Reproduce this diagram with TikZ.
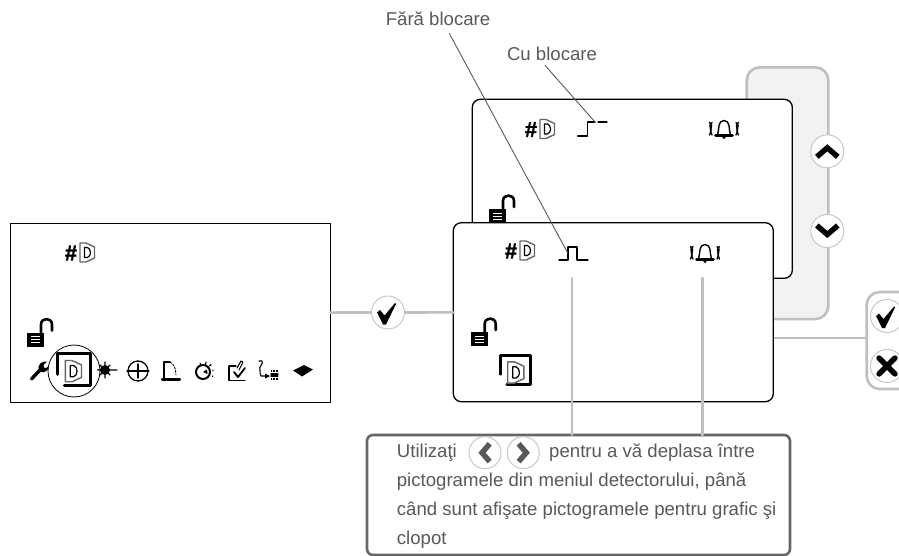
\documentclass[tikz,border=0pt]{standalone}
\usepackage{fontspec}
\setmainfont{Liberation Sans}
\newfontfamily\hashfont[FakeBold=1.6]{Liberation Sans}
\usepackage{tikz}
\definecolor{linkgray}{HTML}{BFBFBF}
\definecolor{tabfill}{HTML}{F2F2F2}
\definecolor{textgray}{HTML}{595959}
\definecolor{boxgray}{HTML}{666666}
\definecolor{ringgray}{HTML}{C8C8C8}
\definecolor{doorgray}{HTML}{666666}
\tikzset{
  panel/.style={draw=black,fill=white,line width=1.3pt,inner sep=0pt,outer sep=0pt,minimum width=320pt,minimum height=179pt},
  roundpanel/.style={panel,rounded corners=8pt},
  graytab/.style={draw=linkgray,line width=2.6pt,inner sep=0pt,outer sep=0pt,rounded corners=13pt},
  link/.style={draw=linkgray,line width=2.6pt},
  leader/.style={draw=textgray,line width=0.9pt},
  roundbtn/.style={circle,draw=ringgray,fill=white,line width=1pt,inner sep=0pt,minimum size=33pt},
  labeltext/.style={font=\fontsize{18.6}{29}\selectfont,text=textgray,inner sep=0pt},
  doorpic/.pic={
    \draw[doorgray,line width=1.4pt] (0,0)-- (6,0)-- (14.5,4)-- (14.5,15)-- (6,19)-- (0,19)-- cycle;
    \draw[black,line width=1.2pt] (4.5,4.5)-- (7.5,4.5) .. controls (11.5,6) and (11.5,13) .. (7.5,14.5)-- (4.5,14.5)-- cycle;
  },
  idicon/.pic={
    \node[inner sep=0pt,font=\fontsize{21.6}{22}\hashfont\bfseries] (mark) at (6,8) {\#};
    \pic (door) at (15,-2) {doorpic};
  },
  framedicon/.pic={
    \draw[black,line width=2.6pt] (0,21)-- (0,0)-- (33,0)-- (33,32)-- (7,32);
    \pic[scale=1.12] (door) at (8,7) {doorpic};
  },
  lockicon/.pic={
    \fill[black] (0,14) rectangle (17,28);
    \draw[white,line width=1pt,line cap=butt] (4,18)-- (13,18) (4,21)-- (13,21) (4,24)-- (13,24);
    \draw[black,line width=2.6pt] (14,14)-- (14,6) .. controls (14,-1.3) and (25,-1.3) .. (25,6)-- (25,12);
  },
  bellicon/.pic={
    \draw[black,line width=1.4pt] (-6.5,6) .. controls (-4.5,0) and (-6.5,-8.5) .. (0,-8.5) .. controls (6.5,-8.5) and (4.5,0) .. (6.5,6);
    \draw[black,line width=2.6pt] (-8.5,6.5)-- (8.5,6.5);
    \fill[black] (0,8.5) circle (1.6pt);
    \foreach \sgn in {-1,1} {
      \draw[black,line width=1.4pt] (\sgn*12,-6.5) .. controls (\sgn*17.5,-3) and (\sgn*10,1) .. (\sgn*14.5,6);
      \draw[black,line width=1.4pt] (\sgn*14.5,-6.5) .. controls (\sgn*9,-3) and (\sgn*16.5,1) .. (\sgn*12,6);
    }
  },
  chevronicon/.pic={
    \draw[line width=5.4pt,line cap=butt,line join=miter] (-10.5,5.5)-- (0,-3.5)-- (10.5,5.5);
  },
  checkicon/.pic={
    \fill[black] (-11,0)-- (-8,-2.5)-- (-3.5,3)-- (7,-9.5)-- (8,-8.5)-- (-2,12)-- (-5,12)-- cycle;
  },
  crossicon/.pic={
    \draw[black,line width=5.4pt] (-8,-8)-- (8,8) (-8,8)-- (8,-8);
  },
}
\begin{document}
\begin{tikzpicture}[line cap=round,line join=round,x=1pt,y=-1pt]
\clip (0,0) rectangle (899,556);

\node[graytab,fill=tabfill,minimum width=81.6pt,minimum height=251.7pt] (movetab) at (787.5,193.2) {};
\node[roundpanel] (backpanel) at (632.3,188.8) {};
\pic (backid) at (525,121.5) {idicon};
\pic (backlock) at (489,195) {lockicon};
\pic (backbell) at (724,129) {bellicon};
\draw[black,line width=1.2pt] (577.7,136)-- (587.7,136)-- (587.7,122)-- (595,122) (598,122)-- (607,122);

\node[panel] (leftpanel) at (170.3,312.7) {};
\pic (leftid) at (65,245) {idicon};
\pic (leftlock) at (27,318.5) {lockicon};

\draw[black,line width=3.4pt] (31.5,379)-- (41,369);
\fill[black] (39,371) .. controls (36.5,365.5) and (41.5,360.5) .. (47,361.5)-- (43.5,365)-- (44,367.5)-- (46.5,368)-- (49,365) .. controls (49.5,370) and (45,373) .. (41,372)-- cycle;
\node[circle,draw=black,line width=0.8pt,inner sep=0pt,minimum size=52pt] (selring) at (74,371) {};
\pic (leftframed) at (57.3,353.5) {framedicon};
\fill[black] (105,370) circle (5pt);
\draw[black,line width=1.1pt] (105,362)-- (105,378) (97.5,370)-- (117,370) (100,365)-- (110,375) (100,375)-- (110,365);
\node[circle,draw=black,line width=1.3pt,inner sep=0pt,minimum size=20pt] (target) at (138,371) {};
\draw[black,line width=1.1pt] (127,371)-- (149,371) (138,364)-- (138,378);
\draw[black,line width=2.2pt] (162,379.5)-- (180,379.5);
\draw[black,line width=1.1pt] (164,379)-- (164,362)-- (170,362);
\draw[black,line width=0.9pt,dash pattern=on 2pt off 1.5pt] (170,362) .. controls (174,364) and (176,369) .. (176,375);
\node[circle,draw=black,line width=2pt,inner sep=0pt,minimum size=14pt] (watch) at (203,372) {};
\fill[black] (203,372)-- (207,369.5)-- (207.5,374)-- cycle;
\draw[black,line width=1.1pt] (200,363)-- (201,365) (206,362)-- (205.5,364.5) (211,364.5)-- (209.5,366) (213,370)-- (213,370.5) (212.5,376)-- (212.5,376.5);
\draw[black,line width=1.2pt] (229,366)-- (229,380.5)-- (245,380.5) (229,366)-- (236,366);
\draw[black,line width=1.8pt] (234,372)-- (238,377)-- (245,368);
\draw[black,line width=1.1pt] (237,368)-- (241,361)-- (243,362)-- (239,370);
\draw[black,line width=1.1pt] (259,361)-- (262,361) .. controls (264,364) and (258,367) .. (260,370) .. controls (261,373) and (259,374) .. (261,376)-- (268,376);
\fill[black] (265,373.5)-- (270,376)-- (265,378.5)-- cycle;
\draw[black,line width=1.8pt,dash pattern=on 1pt off 0.6pt,line cap=butt] (271,371)-- (278,371) (271,379)-- (278,379);
\draw[black,line width=1.1pt] (271,376)-- (278,376) (271,374)-- (278,374);
\fill[black] (293,370.5)-- (304,365)-- (313,369.5)-- (302,376.5)-- cycle;

\node[roundpanel] (frontpanel) at (613.3,312.2) {};
\pic (frontid) at (505,243) {idicon};
\pic (frontlock) at (470.7,318) {lockicon};
\pic[scale=0.9] (frontframed) at (500.5,355.5) {framedicon};
\pic (frontbell) at (705,253) {bellicon};
\draw[black,line width=1.2pt] (559,260)-- (568,260)-- (568,247)-- (577,247)-- (577,260)-- (588,260);

\node[graytab,fill=white,minimum width=70pt,minimum height=97pt] (confirmtab) at (901.7,340.5) {};
\node[roundbtn] (okbtn) at (388,312.5) {};
\node[roundbtn] (upbtn) at (827.3,151.3) {};
\node[roundbtn] (downbtn) at (827.3,231) {};
\node[roundbtn] (confirmbtn) at (887,316) {};
\node[roundbtn] (cancelbtn) at (887,366) {};
\pic (okmark) at (okbtn) {checkicon};
\pic[black] (upmark) at (upbtn) {chevronicon};
\pic[black,rotate=180] (downmark) at (downbtn) {chevronicon};
\pic (confirmmark) at (confirmbtn) {checkicon};
\pic (cancelmark) at (cancelbtn) {crossicon};

\coordinate (confirmlink) at (0,338);
\coordinate (pulseend) at (572,278);
\coordinate (bellend) at (702.7,278);
\coordinate (pulsetip) at (567.7,253);
\coordinate (steptip) at (595,122);

\node[draw=boxgray,fill=white,line width=2.6pt,rounded corners=6pt,anchor=north west,inner sep=0pt,outer sep=0pt,minimum width=423pt,minimum height=120pt] (hintbox) at (367,435) {};
\node[labeltext,anchor=base west,align=left] (hinttext) at (396.7,544) {Utilizaţi\hspace{92.4pt}pentru a vă deplasa între\\pictogramele din meniul detectorului, până\\când sunt afişate pictogramele pentru grafic şi\\clopot};
\node[roundbtn,minimum size=32pt] (prevbtn) at (485,452.7) {};
\node[roundbtn,minimum size=32pt] (nextbtn) at (523.3,452.7) {};
\pic[textgray,rotate=90,scale=0.85] (prevmark) at (prevbtn) {chevronicon};
\pic[textgray,rotate=-90,scale=0.85] (nextmark) at (nextbtn) {chevronicon};

\node[labeltext,anchor=base] (farablocare) at (438,26) {Fără blocare};
\node[labeltext,anchor=base] (cublocare) at (552,61) {Cu blocare};

\draw[link] (leftpanel)-- (okbtn);
\draw[link] (okbtn)-- (frontpanel);
\draw[link,shorten <=1.5pt] (frontpanel.east |- confirmlink)-- (confirmtab.west |- confirmlink);
\draw[link] (pulseend)-- (pulseend |- hintbox.north);
\draw[link] (bellend)-- (bellend |- hintbox.north);
\draw[leader] ([xshift=11.3pt,yshift=-7pt]farablocare.south)-- (pulsetip);
\draw[leader] ([xshift=-7pt,yshift=-4pt]cublocare.south)-- (steptip);
\end{tikzpicture}
\end{document}
